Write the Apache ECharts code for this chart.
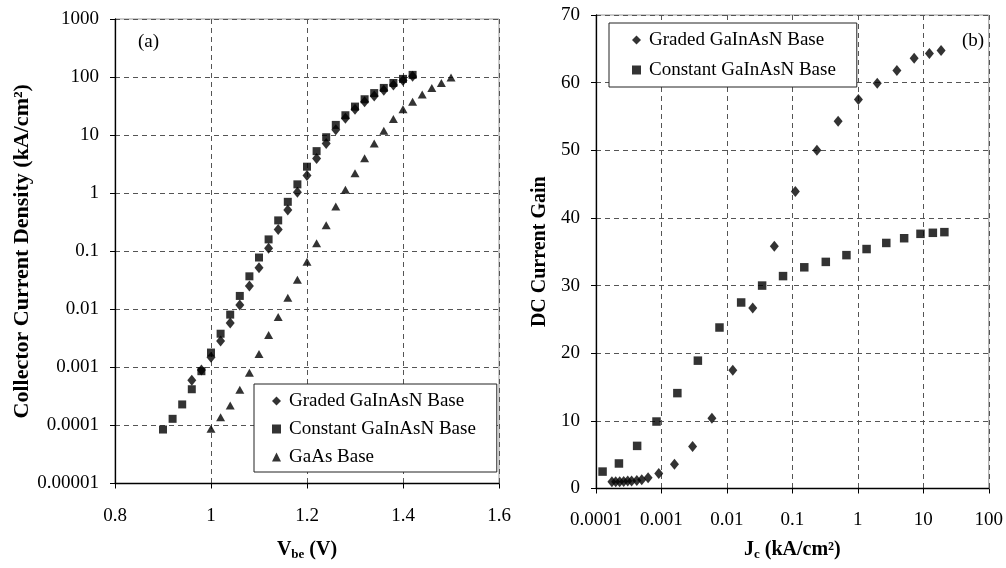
<!DOCTYPE html>
<html><head><meta charset="utf-8">
<script src="https://cdn.jsdelivr.net/npm/echarts@6/dist/echarts.min.js"></script>
<style>html,body{margin:0;padding:0;background:#fff}#c{width:1006px;height:568px}</style>
</head><body><div id="c"></div>
<script>
// ---------- Panel (a): Collector current density vs Vbe ----------
const vGraded = [0.96,0.98,1.00,1.02,1.04,1.06,1.08,1.10,1.12,1.14,1.16,1.18,1.20,1.22,1.24,1.26,1.28,1.30,1.32,1.34,1.36,1.38,1.40,1.42];
const jGraded = [6.0e-4,9.0e-4,1.5e-3,2.85e-3,5.8e-3,0.0119,0.0253,0.052,0.113,0.237,0.515,1.04,2.02,3.95,7.2,12.4,19.5,27.8,37.5,47,59,73,87,103];
const vConst = [0.90,0.92,0.94,0.96,0.98,1.00,1.02,1.04,1.06,1.08,1.10,1.12,1.14,1.16,1.18,1.20,1.22,1.24,1.26,1.28,1.30,1.32,1.34,1.36,1.38,1.40,1.42];
const jConst = [8.5e-5,1.3e-4,2.3e-4,4.2e-4,8.6e-4,1.8e-3,3.8e-3,8.1e-3,0.017,0.037,0.078,0.16,0.34,0.71,1.42,2.86,5.3,9.2,15,22,31,41.5,53,65,79,93,109];
const vGaAs = [1.00,1.02,1.04,1.06,1.08,1.10,1.12,1.14,1.16,1.18,1.20,1.22,1.24,1.26,1.28,1.30,1.32,1.34,1.36,1.38,1.40,1.42,1.44,1.46,1.48,1.50];
const jGaAs = [8.8e-5,1.39e-4,2.2e-4,4.1e-4,8.1e-4,1.7e-3,3.6e-3,7.4e-3,0.0158,0.0324,0.066,0.137,0.28,0.59,1.15,2.2,4.0,7.2,11.9,19,28,37.5,50,65,79,98];
const aYTickLabels = ['0.00001','0.0001','0.001','0.01','0.1','1','10','100','1000'];

// ---------- Panel (b): DC current gain vs Jc ----------
const jcGraded = [1.75e-4,2.0e-4,2.3e-4,2.65e-4,3.05e-4,3.5e-4,4.2e-4,5.0e-4,6.25e-4,9.1e-4,1.58e-3,2.99e-3,5.9e-3,0.0123,0.0248,0.053,0.111,0.237,0.5,1.02,1.98,3.95,7.25,12.4,18.7];
const gainGraded = [1.0,1.0,1.0,1.05,1.1,1.1,1.2,1.3,1.6,2.2,3.6,6.2,10.4,17.5,26.7,35.8,43.9,50.0,54.3,57.5,59.9,61.8,63.6,64.3,64.75];
const jcConst = [1.26e-4,2.24e-4,4.25e-4,8.4e-4,1.75e-3,3.6e-3,7.7e-3,0.0165,0.0345,0.072,0.152,0.324,0.67,1.36,2.72,5.1,9.06,14,21];
const gainConst = [2.5,3.7,6.3,9.9,14.1,18.9,23.8,27.5,30.0,31.4,32.7,33.5,34.5,35.4,36.3,37.0,37.65,37.8,37.9];
const bXTickLabels = ['0.0001','0.001','0.01','0.1','1','10','100'];

const seriesNames = ['Graded GaInAsN Base','Constant GaInAsN Base','GaAs Base'];

const FONT = 'Liberation Serif';
const zip = (a, b) => a.map((x, i) => [x, b[i]]);
const logLabel = (labels, minExp) => v => labels[Math.round(Math.log10(v)) - minExp] || '';

const splitDash = { show: true, lineStyle: { color: '#555', width: 1, type: [5, 4] } };
const axLine = { show: true, lineStyle: { color: '#000', width: 1.3 } };
const tick = { show: true, inside: false, length: 5, lineStyle: { color: '#000' } };
const lbl = { color: '#000', fontFamily: FONT, fontSize: 19 };
const nameStyle = { color: '#000', fontFamily: FONT, fontSize: 20, fontWeight: 'bold' };
const richName = {
  v: { fontFamily: FONT, fontSize: 20, fontWeight: 'bold', color: '#000', lineHeight: 20, padding: [0, 0, 3, 0] },
  s: { fontFamily: FONT, fontSize: 13, fontWeight: 'bold', color: '#000', lineHeight: 13, verticalAlign: 'bottom' }
};

const chart = echarts.init(document.getElementById('c'), null, { renderer: 'canvas' });
const black = { color: '#000' };

chart.setOption({
  animation: false,
  backgroundColor: '#fff',
  grid: [
    { left: 115, top: 19, width: 384, height: 473, show: true, borderColor: '#999', borderWidth: 1, backgroundColor: 'transparent' },
    { left: 596, top: 15, width: 394, height: 476, show: true, borderColor: '#999', borderWidth: 1, backgroundColor: 'transparent' }
  ],
  xAxis: [
    { gridIndex: 0, type: 'value', min: 0.8, max: 1.6, interval: 0.2,
      axisLine: axLine, axisTick: tick, splitLine: splitDash,
      axisLabel: Object.assign({ margin: 23 }, lbl),
      name: '{v|V}{s|be}{v| (V)}', nameLocation: 'middle', nameGap: 58,
      nameTextStyle: Object.assign({ rich: richName }, nameStyle) },
    { gridIndex: 1, type: 'log', logBase: 10, min: 0.0001, max: 100,
      axisLine: axLine, axisTick: tick, splitLine: splitDash, minorTick: { show: false },
      axisLabel: Object.assign({ margin: 22, formatter: logLabel(bXTickLabels, -4) }, lbl),
      name: '{v|J}{s|c}{v| (kA/cm²)}', nameLocation: 'middle', nameGap: 53,
      nameTextStyle: Object.assign({ rich: richName }, nameStyle) }
  ],
  yAxis: [
    { gridIndex: 0, type: 'log', logBase: 10, min: 0.00001, max: 1000,
      axisLine: axLine, axisTick: tick, splitLine: splitDash,
      axisLabel: Object.assign({ margin: 16, formatter: logLabel(aYTickLabels, -5) }, lbl),
      name: 'Collector Current Density (kA/cm²)', nameLocation: 'middle', nameRotate: 90, nameGap: 81,
      nameTextStyle: Object.assign({}, nameStyle, { fontSize: 22 }) },
    { gridIndex: 1, type: 'value', min: 0, max: 70, interval: 10,
      axisLine: axLine, axisTick: tick, splitLine: splitDash,
      axisLabel: Object.assign({ margin: 16 }, lbl),
      name: 'DC Current Gain', nameLocation: 'middle', nameRotate: 90, nameGap: 46,
      nameTextStyle: nameStyle }
  ],
  legend: [
    { left: 254, top: 384, orient: 'vertical', itemGap: 8, itemWidth: 9, itemHeight: 9,
      padding: [7, 21, 5, 18], backgroundColor: '#fff', borderColor: '#222', borderWidth: 1,
      textStyle: { fontFamily: FONT, fontSize: 19, color: '#000', lineHeight: 20, padding: [0, 0, 0, 3] },
      selectedMode: false,
      data: [
        { name: seriesNames[0], icon: 'diamond' },
        { name: seriesNames[1], icon: 'rect' },
        { name: seriesNames[2], icon: 'triangle' }
      ] },
    { left: 609, top: 23, orient: 'vertical', itemGap: 10, itemWidth: 9, itemHeight: 9,
      padding: [7, 21, 7, 23], backgroundColor: '#fff', borderColor: '#222', borderWidth: 1,
      textStyle: { fontFamily: FONT, fontSize: 19, color: '#000', lineHeight: 20, padding: [0, 0, 0, 3] },
      selectedMode: false,
      data: [
        { name: seriesNames[0], icon: 'diamond' },
        { name: seriesNames[1], icon: 'rect' }
      ] }
  ],
  graphic: [
    { type: 'text', left: 138, top: 33, style: { text: '(a)', fontFamily: FONT, fontSize: 19, fill: '#000' } },
    { type: 'text', left: 962, top: 32, style: { text: '(b)', fontFamily: FONT, fontSize: 19, fill: '#000' } }
  ],
  series: [
    { name: seriesNames[0], type: 'scatter', xAxisIndex: 0, yAxisIndex: 0, symbol: 'diamond', symbolSize: [9, 11],
      itemStyle: black, data: zip(vGraded, jGraded) },
    { name: seriesNames[1], type: 'scatter', xAxisIndex: 0, yAxisIndex: 0, symbol: 'rect', symbolSize: 8,
      itemStyle: black, data: zip(vConst, jConst) },
    { name: seriesNames[2], type: 'scatter', xAxisIndex: 0, yAxisIndex: 0, symbol: 'triangle', symbolSize: [9, 8],
      itemStyle: black, data: zip(vGaAs, jGaAs) },
    { name: seriesNames[0], type: 'scatter', xAxisIndex: 1, yAxisIndex: 1, symbol: 'diamond', symbolSize: [9, 11],
      itemStyle: black, data: zip(jcGraded, gainGraded) },
    { name: seriesNames[1], type: 'scatter', xAxisIndex: 1, yAxisIndex: 1, symbol: 'rect', symbolSize: 8.5,
      itemStyle: black, data: zip(jcConst, gainConst) }
  ]
});
</script>
</body></html>
